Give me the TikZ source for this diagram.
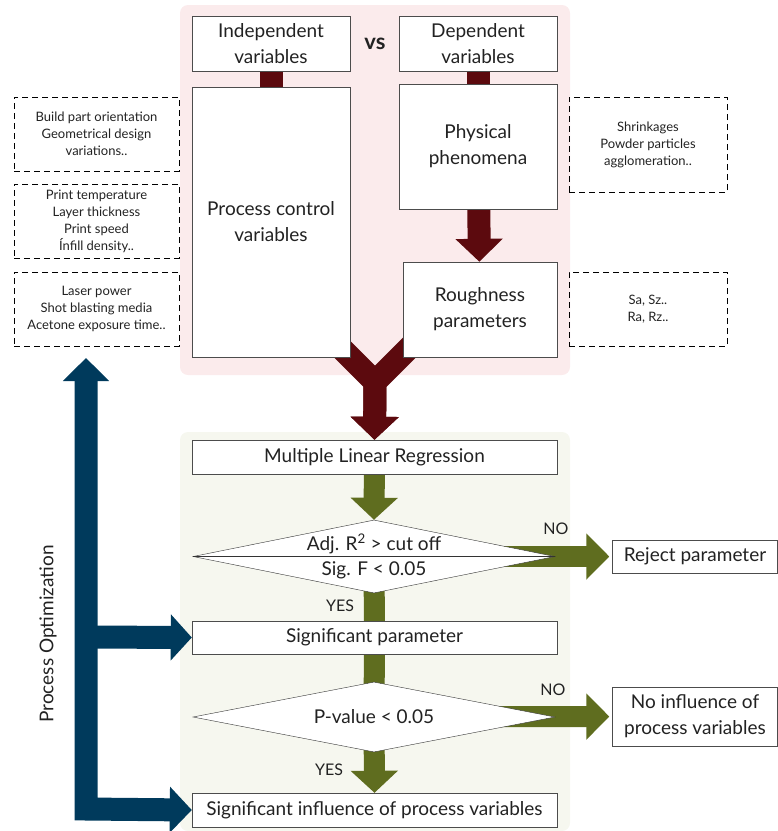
\documentclass[tikz,border=0pt]{standalone}
\usepackage{fontspec}
\setmainfont{Lato}
\usepackage{xcolor}
\usepackage{tikz}
\usetikzlibrary{calc}
\usetikzlibrary{arrows.meta}
\usetikzlibrary{shapes}
\usetikzlibrary{positioning}
\usetikzlibrary{shapes.geometric}

\definecolor{bgred}{HTML}{FBEBEC}
\definecolor{bggreen}{HTML}{F6F7EF}
\definecolor{darkred}{HTML}{5C0A0E}
\definecolor{olive}{HTML}{5F6D1F}
\definecolor{navy}{HTML}{003A5C}
\definecolor{txt}{HTML}{222222}

\pgfdeclarelayer{back}
\pgfdeclarelayer{mid}
\pgfsetlayers{back,mid,main}

\tikzset{
  bigfont/.style={font=\fontsize{19}{26}\selectfont},
  smallfont/.style={font=\fontsize{13}{17}\selectfont},
  box/.style={rectangle, draw=black!70, fill=white, align=center, inner sep=0pt, text=txt, bigfont},
  note/.style={rectangle, draw=black, dashed, dash pattern=on 6pt off 4pt, align=center, inner sep=0pt, text=txt, smallfont},
  test/.style={diamond, shape aspect=5.2, draw=black!80, fill=white, inner sep=0pt, text=txt, bigfont},
  redarrow/.style={draw=darkred, line width=23pt, line join=miter},
  greenarrow/.style={draw=olive, line width=21pt, line join=miter},
  bluearrow/.style={draw=navy, line width=23pt, line join=miter},
  yesno/.style={text=txt, font=\fontsize{16}{18}\selectfont}
}

\begin{document}
\begin{tikzpicture}[x=1pt, y=-1pt]
\useasboundingbox (0,0) rectangle (778,831);

% panels
\begin{pgfonlayer}{back}
\fill [bgred, rounded corners=8pt] (180,5) rectangle (570,375);
\fill [bggreen, rounded corners=8pt] (180,432) rectangle (570,831);
\end{pgfonlayer}

% upper part
\node [box, minimum width=158pt, minimum height=55pt] (IV) at (271,43.5) {Independent\\variables};
\node [box, minimum width=158pt, minimum height=55pt] (DV) at (478,43.5) {Dependent\\variables};
\node [text=txt, font=\fontsize{22}{22}\selectfont\bfseries] (VS) at (375,44) {vs};
\node [box, minimum width=158pt, minimum height=270pt] (PCV) at (271,222) {Process control\\variables};
\node [box, minimum width=158pt, minimum height=125pt] (PP) at (478,146.5) {Physical\\phenomena};
\node [box, minimum width=154pt, minimum height=95pt] (RP) at (480,309.5) {Roughness\\parameters};

\node [note, minimum width=165pt, minimum height=74pt] (L1) at (96.5,134) {Build part orientation\\Geometrical design\\variations..};
\node [note, minimum width=165pt, minimum height=74pt] (L2) at (96.5,221) {Print temperature\\Layer thickness\\Print speed\\Ínfill density..};
\node [note, minimum width=165pt, minimum height=74pt] (L3) at (96.5,309) {Laser power\\Shot blasting media\\Acetone exposure time..};
\node [note, minimum width=158pt, minimum height=95pt] (R1) at (648,144.5) {Shrinkages\\Powder particles\\agglomeration..};
\node [note, minimum width=158pt, minimum height=74pt] (R2) at (648,309) {Sa, Sz..\\Ra, Rz..};

% lower part
\node [box, minimum width=365pt, minimum height=34pt] (MLR) at (374.5,457) {Multiple Linear Regression};
\node [test, minimum width=362pt, minimum height=73pt] (D1) at (374,556.5) {};
\node [text=txt, bigfont] (D1a) at (374,544) {Adj. R\textsuperscript{2} > cut off};
\node [text=txt, bigfont] (D1b) at (374,570) {Sig. F < 0.05};
\node [box, minimum width=365pt, minimum height=33pt] (SP) at (374.5,637.5) {Significant parameter};
\node [test, minimum width=362pt, minimum height=70pt] (D2) at (374,717) {P-value < 0.05};
\node [box, minimum width=365pt, minimum height=34pt] (SI) at (374.5,810) {Significant influence of process variables};
\node [box, minimum width=165pt, minimum height=33pt] (RJ) at (695,556.5) {Reject parameter};
\node [box, minimum width=165pt, minimum height=59pt] (NI) at (695,716.5) {No influence of\\process variables};
\draw [black!80] (D1.west) -- (D1.east);

\node [yesno] (NO1) at (556,529) {NO};
\node [yesno] (YES1) at (340,606) {YES};
\node [yesno] (NO2) at (553,690) {NO};
\node [yesno] (YES2) at (329,770) {YES};

\node [text=txt, bigfont, rotate=90] (POL) at (48,634) {Process Optimization};

% connectors
\coordinate (YA) at (338,345);
\coordinate (YB) at (412,345);
\coordinate (YM) at (375,382);
\coordinate (PO) at (86,358);
\coordinate (PB) at (86,809);
\coordinate (PM) at (86,637);

\begin{pgfonlayer}{mid}
\draw [redarrow] (IV) to (PCV);
\draw [redarrow] (DV) to (PP);
\draw [redarrow, -{Triangle[width=46pt,length=23pt]}] (PP) to (RP);
\draw [redarrow, -{Triangle[width=47pt,length=23pt]}] (YA) -- (YM) -- (MLR.north);
\draw [redarrow, -{Triangle[width=47pt,length=23pt]}] (YB) -- (YM) -- (MLR.north);

\draw [greenarrow, -{Triangle[width=46pt,length=22pt]}] (MLR) to (D1.north);
\draw [greenarrow] (D1.center) to (SP.center);
\draw [greenarrow] (SP.center) to (D2.center);
\draw [greenarrow, -{Triangle[width=46pt,length=22pt]}] (D2.center) to (SI.north);
\draw [greenarrow, shorten >=3pt, -{Triangle[width=45pt,length=23pt]}] (D1.center) to (RJ.west);
\draw [greenarrow, shorten >=3pt, -{Triangle[width=45pt,length=23pt]}] (D2.center) to (NI.west);

\draw [bluearrow, {Triangle[width=45pt,length=22pt]}-{Triangle[width=45pt,length=23pt]}] (SI.west) -- (PB) -- (PO);
\draw [bluearrow, -{Triangle[width=45pt,length=21pt]}] (PM) -- (SP.west);
\end{pgfonlayer}
\end{tikzpicture}
\end{document}
